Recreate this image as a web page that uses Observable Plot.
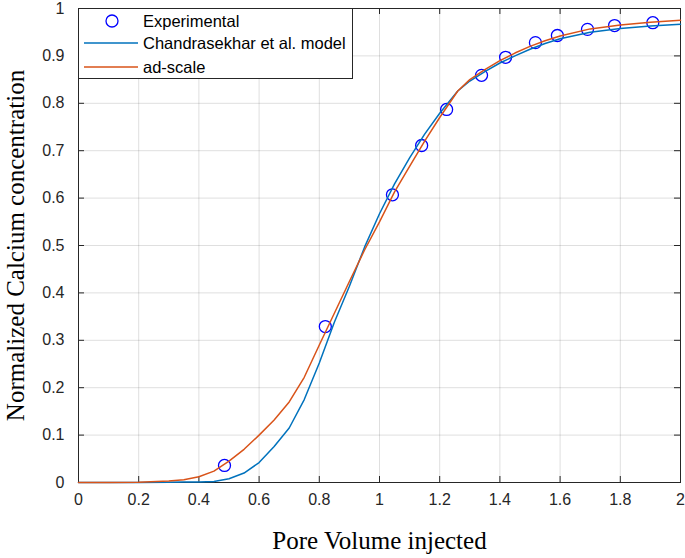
<!DOCTYPE html>
<html><head><meta charset="utf-8">
<script src="https://cdn.jsdelivr.net/npm/d3@7"></script>
<script src="https://cdn.jsdelivr.net/npm/@observablehq/plot@0.6"></script>
<style>
body{margin:0;background:#fff;}
#chart{position:relative;width:685px;height:558px;}
#legend{position:absolute;left:78px;top:8px;}
</style></head><body><div id="chart"></div>
<script>
// ---- data ----
const expX = [0.485, 0.82, 1.043, 1.14, 1.223, 1.339, 1.419, 1.518, 1.591, 1.691, 1.781, 1.908];
const expY = [0.036, 0.329, 0.607, 0.711, 0.787, 0.859, 0.897, 0.928, 0.943, 0.956, 0.964, 0.970];

const modelX = [0, 0.1, 0.2, 0.3, 0.35, 0.4, 0.45, 0.5, 0.55, 0.6, 0.65, 0.7, 0.75, 0.8, 0.85, 0.9, 0.95, 1.0, 1.05, 1.1, 1.15, 1.2, 1.26, 1.3, 1.35, 1.4, 1.45, 1.5, 1.55, 1.6, 1.7, 1.8, 1.9, 2.0];
const chandraY = [0, 0, 0, 0.0005, 0.001, 0.001, 0.002, 0.008, 0.02, 0.042, 0.076, 0.115, 0.175, 0.252, 0.338, 0.414, 0.496, 0.567, 0.63, 0.685, 0.735, 0.779, 0.826, 0.847, 0.867, 0.885, 0.9, 0.914, 0.926, 0.936, 0.95, 0.958, 0.963, 0.967];
const adscaleY = [0, 0, 0.0005, 0.003, 0.006, 0.012, 0.024, 0.045, 0.07, 0.1, 0.132, 0.17, 0.222, 0.29, 0.357, 0.424, 0.49, 0.55, 0.613, 0.667, 0.72, 0.77, 0.826, 0.85, 0.871, 0.89, 0.906, 0.92, 0.932, 0.942, 0.957, 0.965, 0.971, 0.975];

const xTicks = [0, 0.2, 0.4, 0.6, 0.8, 1, 1.2, 1.4, 1.6, 1.8, 2];
const xTickLabels = ["0", "0.2", "0.4", "0.6", "0.8", "1", "1.2", "1.4", "1.6", "1.8", "2"];
const yTicks = [0, 0.1, 0.2, 0.3, 0.4, 0.5, 0.6, 0.7, 0.8, 0.9, 1];
const yTickLabels = ["0", "0.1", "0.2", "0.3", "0.4", "0.5", "0.6", "0.7", "0.8", "0.9", "1"];

const seriesNames = ["Experimental", "Chandrasekhar et al. model", "ad-scale"];
const xLabel = "Pore Volume injected";
const yLabel = "Normalized Calcium concentration";

// ---- tables ----
const expData = expX.map((x, i) => ({x, y: expY[i]}));
const chandraData = modelX.map((x, i) => ({x, y: chandraY[i]}));
const adData = modelX.map((x, i) => ({x, y: adscaleY[i]}));

const W = 685, H = 558, mL = 78, mR = 5, mT = 8, mB = 76;
const innerW = W - mL - mR, innerH = H - mT - mB;
const axisColor = "#262626";
const sans = "'Liberation Sans', Arial, sans-serif";
const serif = "'Liberation Serif', 'Times New Roman', serif";
const tick = 6;

const chart = Plot.plot({
  width: W, height: H,
  marginLeft: mL, marginRight: mR, marginTop: mT, marginBottom: mB,
  x: {domain: [0, 2]},
  y: {domain: [0, 1]},
  style: {fontFamily: sans, background: "#fff"},
  marks: [
    Plot.gridX(xTicks, {stroke: axisColor, strokeOpacity: 0.15}),
    Plot.gridY(yTicks, {stroke: axisColor, strokeOpacity: 0.15}),
    // inward tick marks (MATLAB style)
    Plot.ruleX(xTicks, {stroke: axisColor, insetTop: innerH - tick}),
    Plot.ruleX(xTicks, {stroke: axisColor, insetBottom: innerH - tick}),
    Plot.ruleY(yTicks, {stroke: axisColor, insetRight: innerW - tick}),
    Plot.ruleY(yTicks, {stroke: axisColor, insetLeft: innerW - tick}),
    Plot.frame({stroke: axisColor, strokeWidth: 1}),
    Plot.axisX(xTicks, {tickSize: 0, tickPadding: 11, fontSize: 16, fill: axisColor,
      tickFormat: d => xTickLabels[xTicks.indexOf(d)], label: null}),
    Plot.axisY(yTicks, {tickSize: 0, tickPadding: 14, fontSize: 16, fill: axisColor,
      tickFormat: d => yTickLabels[yTicks.indexOf(d)], label: null}),
    Plot.axisX({ticks: [], tickSize: 0, label: xLabel, labelAnchor: "center", labelArrow: "none",
      labelOffset: 66, fontSize: 25, fontFamily: serif, fill: "#000"}),
    Plot.axisY({ticks: [], tickSize: 0, label: yLabel, labelAnchor: "center", labelArrow: "none",
      labelOffset: 72, fontSize: 25, fontFamily: serif, fill: "#000"}),
    Plot.dot(expData, {x: "x", y: "y", r: 6, stroke: "#0000ff", strokeWidth: 1.3, fill: "none"}),
    Plot.line(chandraData, {x: "x", y: "y", stroke: "#0072BD", strokeWidth: 1.5}),
    Plot.line(adData, {x: "x", y: "y", stroke: "#D95319", strokeWidth: 1.5})
  ]
});
const container = document.getElementById("chart");
container.appendChild(chart);

// ---- legend (inside the axes, top-left) ----
const lw = 275, lh = 71;
const legend = d3.create("svg").attr("id", "legend").attr("width", lw).attr("height", lh);
legend.append("rect").attr("x", 0.5).attr("y", 0.5).attr("width", lw - 1).attr("height", lh - 1)
  .attr("fill", "#fff").attr("stroke", axisColor);
const rowsY = [13, 35, 59];
legend.append("circle").attr("cx", 34).attr("cy", rowsY[0]).attr("r", 6)
  .attr("fill", "none").attr("stroke", "#0000ff").attr("stroke-width", 1.3);
legend.append("line").attr("x1", 6).attr("x2", 60).attr("y1", rowsY[1]).attr("y2", rowsY[1])
  .attr("stroke", "#0072BD").attr("stroke-width", 1.5);
legend.append("line").attr("x1", 6).attr("x2", 60).attr("y1", rowsY[2]).attr("y2", rowsY[2])
  .attr("stroke", "#D95319").attr("stroke-width", 1.5);
seriesNames.forEach((name, i) => {
  legend.append("text").attr("x", 65).attr("y", rowsY[i]).attr("dy", "0.35em")
    .attr("font-family", sans).attr("font-size", 16.5).attr("fill", "#000").text(name);
});
container.appendChild(legend.node());
</script></body></html>
